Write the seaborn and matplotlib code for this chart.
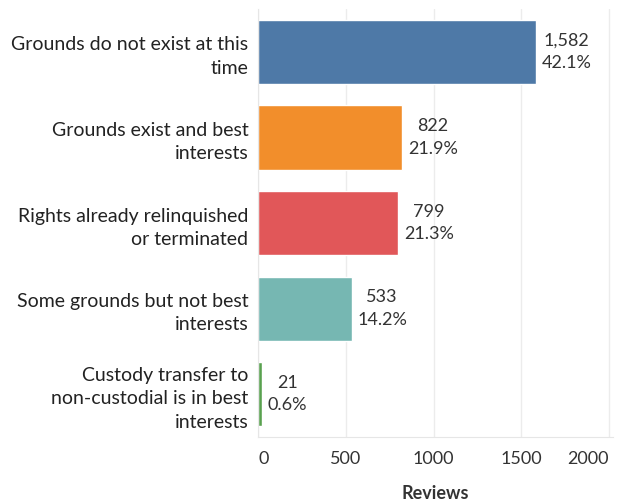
import matplotlib
matplotlib.use("Agg")
import matplotlib.pyplot as plt
import seaborn as sns
import pandas as pd

categories = [
    "Grounds do not exist at this\ntime",
    "Grounds exist and best\ninterests",
    "Rights already relinquished\nor terminated",
    "Some grounds but not best\ninterests",
    "Custody transfer to\nnon-custodial is in best\ninterests",
]
reviews = [1582, 822, 799, 533, 21]
percents = ["42.1%", "21.9%", "21.3%", "14.2%", "0.6%"]
colors = ["#4E79A7", "#F28E2B", "#E15759", "#76B7B2", "#59A14F"]

df = pd.DataFrame({"Reason": categories, "Reviews": reviews})

sns.set_style("white")
plt.rcParams["font.family"] = ["Lato", "DejaVu Sans"]

fig = plt.figure(figsize=(6.22, 5.04), dpi=100)
ax = fig.add_axes([0.415, 0.133, 0.57, 0.849])

sns.barplot(data=df, x="Reviews", y="Reason", hue="Reason", palette=colors,
            width=0.75, legend=False, ax=ax, saturation=1)

for i, (v, p) in enumerate(zip(reviews, percents)):
    ax.annotate(f"{v:,}\n{p}", xy=(v, i), xytext=(4, 0), textcoords="offset points",
                va="center", ha="left", multialignment="center",
                fontsize=13, color="#333333", linespacing=1.5)

ax.set_xlim(0, 2020)
ax.set_xticks([0, 500, 1000, 1500, 2000])
ax.xaxis.grid(True, color="#ececec", linewidth=1)
ax.set_axisbelow(True)
for s in ["top", "right"]:
    ax.spines[s].set_visible(False)
ax.spines["left"].set_color("#e6e6e6")
ax.spines["bottom"].set_color("#e6e6e6")
ax.tick_params(axis="x", labelsize=13, colors="#333333", length=0, pad=10)
ax.tick_params(axis="y", labelsize=14, colors="#222222", length=0, pad=7)
xt = ax.get_xticklabels()
xt[0].set_horizontalalignment("left")
xt[-1].set_horizontalalignment("right")
for lbl in ax.get_yticklabels():
    lbl.set_horizontalalignment("right")
    lbl.set_linespacing(1.45)
ax.set_ylabel("")
ax.set_xlabel("Reviews", fontsize=13, fontweight="bold", color="#333333", labelpad=13)

fig.savefig("out.png", dpi=100)
